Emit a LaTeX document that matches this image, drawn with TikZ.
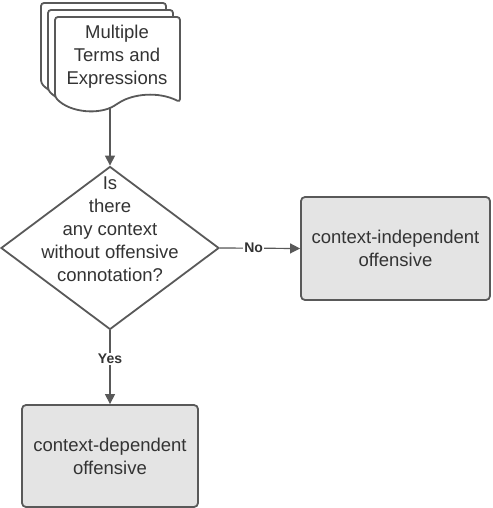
\documentclass[tikz,border=0pt]{standalone}
\usepackage{fontspec}
\setmainfont{Liberation Sans}
\usepackage{tikz}
\usetikzlibrary{arrows.meta}
\usetikzlibrary{shapes.geometric}

\definecolor{edgegray}{HTML}{595959}
\definecolor{boxgray}{HTML}{E4E4E4}
\definecolor{textgray}{HTML}{333333}

\begin{document}
\begin{tikzpicture}[x=1pt, y=-1pt, >={Triangle[length=10pt, width=10pt]},
	font=\fontsize{18.5}{23}\selectfont, text=textgray]
	\tikzstyle{docline} = [draw=edgegray, line width=1.8pt, fill=white, rounded corners=3pt];
	\tikzstyle{decision} = [diamond, draw=edgegray, line width=1.8pt, fill=white, inner sep=0pt, minimum width=218pt, minimum height=163pt];
	\tikzstyle{result} = [rectangle, draw=edgegray, line width=1.8pt, fill=boxgray, rounded corners=4pt, align=center];
	\tikzstyle{link} = [->, draw=edgegray, fill=edgegray, line width=1.2pt];
	\tikzstyle{answer} = [fill=white, inner sep=1pt, font=\fontsize{14}{16}\selectfont\bfseries];

	\useasboundingbox (0,0) rectangle (492,508);

	% stacked documents
	\foreach \d in {0,7,14}
		\draw [docline, shift={(41+\d,3+\d)}] (0,80) -- (0,0) -- (125,0) -- (125,85)
			.. controls (103,74) and (78,77) .. (62,87)
			.. controls (45,98) and (15,96) .. (0,80) -- cycle;
	\node [align=center] (terms) at (117,57) {Multiple\\Terms and\\Expressions};
	\coordinate (termsout) at (110,107);

	\node [decision] (q) at (110,248) {};
	\node [align=center] (qtext) at (110,229) {Is\\there\\any context\\without offensive\\connotation?};

	\node [result, minimum width=189pt, minimum height=103pt] (indep) at (395.5,248.5) {context-independent\\offensive};
	\node [result, minimum width=176pt, minimum height=102pt] (dep) at (110,456) {context-dependent\\offensive};

	\draw [link] (termsout) -- (q.north);
	\draw [link] (q.east) -- node [answer, pos=0.42] {No} (indep.west);
	\draw [link] (q.south) -- node [answer, pos=0.39] {Yes} (dep.north);
\end{tikzpicture}
\end{document}
